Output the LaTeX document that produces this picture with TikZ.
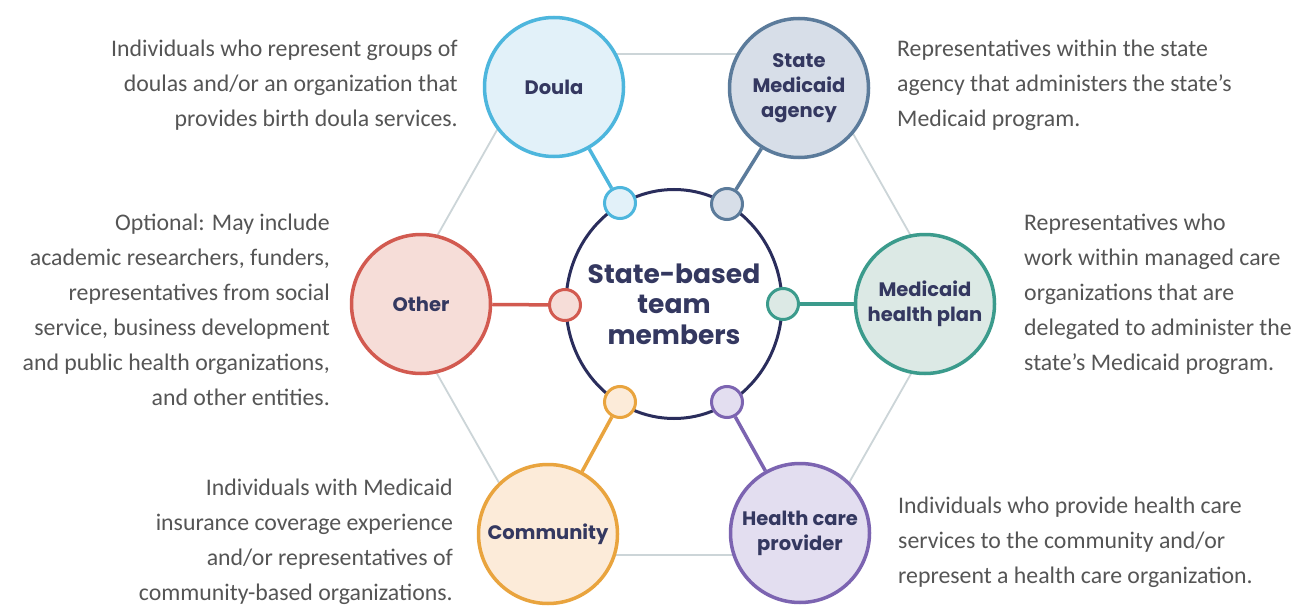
\documentclass[tikz,border=0pt]{standalone}
\usepackage{fontspec}
\setmainfont{Carlito}
\newfontfamily\labfont{Poppins}
\usetikzlibrary{shapes.geometric}
\definecolor{doulaS}{HTML}{4DB6DD}
\definecolor{doulaF}{HTML}{E2F1F9}
\definecolor{agencyS}{HTML}{5B7B9B}
\definecolor{agencyF}{HTML}{D7DEE8}
\definecolor{otherS}{HTML}{D25A50}
\definecolor{otherF}{HTML}{F6DDD8}
\definecolor{planS}{HTML}{3B9B8C}
\definecolor{planF}{HTML}{DCE9E5}
\definecolor{commS}{HTML}{E9A43E}
\definecolor{commF}{HTML}{FCEBD9}
\definecolor{provS}{HTML}{7C64B1}
\definecolor{provF}{HTML}{E3DEF0}
\definecolor{navy}{HTML}{2A2D5C}
\definecolor{labcol}{HTML}{343860}
\definecolor{desccol}{HTML}{555555}
\definecolor{hexcol}{HTML}{CCD5D8}
\begin{document}
\begin{tikzpicture}[x=1pt,y=-1pt,
  big/.style={circle, minimum size=139pt, inner sep=0pt, line width=3.5pt, text=labcol, align=center,
    font=\labfont\bfseries\fontsize{19.5}{25}\selectfont},
  small/.style={circle, minimum size=31pt, inner sep=0pt, line width=3pt},
  desc/.style={inner sep=0pt, text=desccol, font=\fontsize{23.8}{35}\selectfont},
  hexline/.style={draw=hexcol, line width=1.8pt},
  link/.style={line width=3.5pt}]
\useasboundingbox[fill=white] (0,0) rectangle (1304,607);

% hexagon coordinates
\coordinate (h1) at (540,54);
\coordinate (h2) at (808,54);
\coordinate (h3) at (950,305);
\coordinate (h4) at (808,555);
\coordinate (h5) at (540,555);
\coordinate (h6) at (398,305);
\draw[hexline] (h1) -- (h2) -- (h3) -- (h4) -- (h5) -- (h6) -- cycle;

% central
\node[ellipse, draw=navy, fill=white, line width=3pt, minimum width=216pt, minimum height=229pt,
  inner xsep=-60pt, inner ysep=-30pt,
  text=labcol, align=center, font=\labfont\bfseries\fontsize{26.5}{30.5}\selectfont] (center) at (674,304)
  {State-based\\team\\members};

% big circles
\node[big, draw=doulaS, fill=doulaF] (doula) at (554,87) {Doula};
\node[big, draw=agencyS, fill=agencyF] (agency) at (799,88) {State\\Medicaid\\agency};
\node[big, draw=otherS, fill=otherF] (other) at (421,304) {Other};
\node[big, draw=planS, fill=planF] (plan) at (925,304) {Medicaid\\health plan};
\node[big, draw=commS, fill=commF] (comm) at (548,534) {Community};
\node[big, draw=provS, fill=provF] (prov) at (800,533) {Health care\\provider};

% small circles
\node[small, draw=doulaS, fill=doulaF] (sdoula) at (620,203) {};
\node[small, draw=agencyS, fill=agencyF] (sagency) at (727,204) {};
\node[small, draw=otherS, fill=otherF] (sother) at (565,305) {};
\node[small, draw=planS, fill=planF] (splan) at (783,304) {};
\node[small, draw=commS, fill=commF] (scomm) at (620,402) {};
\node[small, draw=provS, fill=provF] (sprov) at (727,402) {};

% links
\draw[link, doulaS] (doula) -- (sdoula);
\draw[link, agencyS] (agency) -- (sagency);
\draw[link, otherS] (other) -- (sother);
\draw[link, planS] (plan) -- (splan);
\draw[link, commS] (comm) -- (scomm);
\draw[link, provS] (prov) -- (sprov);

% descriptions (anchor = baseline of last line)
\node[desc, anchor=base east, align=right] (tdoula) at (458,127)
  {Individuals who represent groups of\\doulas and/or an organization that\\provides birth doula services.};
\node[desc, anchor=base west, align=left] (tagency) at (897,127)
  {Representatives within the state\\agency that administers the state’s\\Medicaid program.};
\node[desc, anchor=base east, align=right] (tother) at (330,405)
  {Optional: May include\\academic researchers, funders,\\representatives from social\\service, business development\\and public health organizations,\\and other entities.};
\node[desc, anchor=base west, align=left] (tplan) at (1024,370)
  {Representatives who\\work within managed care\\organizations that are\\delegated to administer the\\state’s Medicaid program.};
\node[desc, anchor=base east, align=right] (tcomm) at (453,600)
  {Individuals with Medicaid\\insurance coverage experience\\and/or representatives of\\community-based organizations.};
\node[desc, anchor=base west, align=left] (tprov) at (898,583)
  {Individuals who provide health care\\services to the community and/or\\represent a health care organization.};
\end{tikzpicture}
\end{document}
